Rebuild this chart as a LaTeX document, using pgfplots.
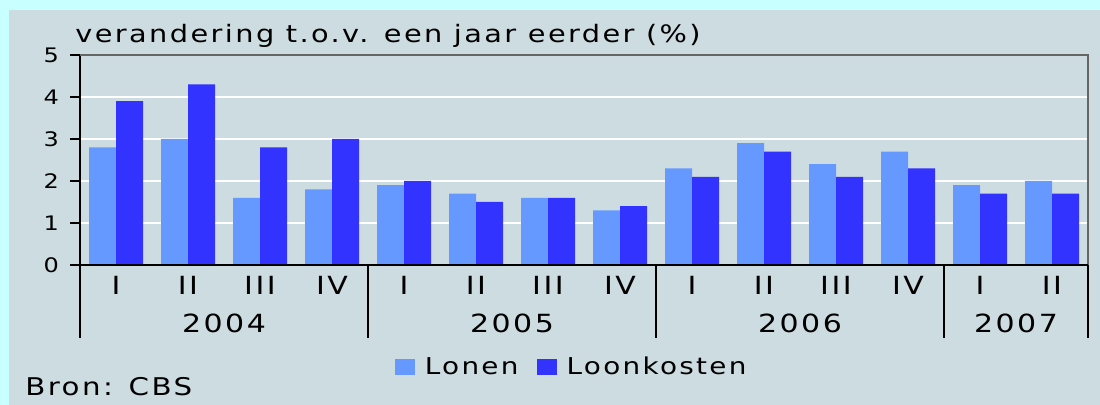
\documentclass[border=0pt]{standalone}
\usepackage{fontspec}
\setmainfont[LetterSpace=10, FakeStretch=1.2]{DejaVu Sans}
\usepackage{pgfplots}
\pgfplotsset{compat=1.18}
\definecolor{outerbg}{HTML}{C8FFFF}
\definecolor{panel}{HTML}{CDDCE0}
\definecolor{lonen}{HTML}{6699FF}
\definecolor{kosten}{HTML}{3333FF}
\begin{document}
\begin{tikzpicture}
\useasboundingbox (0,0) rectangle (550pt,202.5pt);
\fill[outerbg] (0,0) rectangle (550pt,202.5pt);
\fill[panel] (4.5pt,0) rectangle (550pt,197.5pt);
\begin{axis}[
  at={(40pt,70pt)}, anchor=south west,
  width=504pt, height=105pt, scale only axis,
  xmin=-0.5, xmax=13.5, ymin=0, ymax=5,
  clip=false,
  axis background/.style={fill=panel},
  axis lines*=left, axis line style={-, black, line width=1pt},
  ymajorgrids, grid style={white, line width=1pt},
  ytick={0,1,2,3,4,5},
  tick align=outside, major tick length=5pt,
  ytick style={black, line width=1pt},
  yticklabel style={font=\fontsize{10}{11}\selectfont, anchor=east, xshift=-2pt},
  /pgf/number format/assume math mode=true,
  xtick={0,...,13},
  xticklabels={I,II,III,IV,I,II,III,IV,I,II,III,IV,I,II},
  xtick style={draw=none},
  xticklabel style={font=\fontsize{12.5}{13}\selectfont, anchor=base, yshift=-10pt},
  extra x ticks={-0.5,3.5,7.5,11.5,13.5},
  extra x tick labels={},
  extra x tick style={major tick length=36.5pt, xtick style={draw=black, line width=1.1pt}, grid=none},
  legend columns=2,
  legend style={draw=none, fill=none, at={(0.306,-0.486)}, anchor=west,
    font=\fontsize{11.6}{13}\selectfont, /tikz/every even column/.append style={column sep=7pt},
    /tikz/every odd column/.append style={column sep=3pt}},
  legend image code/.code={\fill[#1] (0pt,-4pt) rectangle (10pt,4pt);},
]
\addplot[ybar, bar width=0.375, bar shift=-0.1875, fill=lonen, draw=none] coordinates {
(0,2.8) (1,3.0) (2,1.6) (3,1.8) (4,1.9) (5,1.7) (6,1.6) (7,1.3) (8,2.3) (9,2.9) (10,2.4) (11,2.7) (12,1.9) (13,2.0)};
\addlegendentry{Lonen}
\addplot[ybar, bar width=0.375, bar shift=0.1875, fill=kosten, draw=none] coordinates {
(0,3.9) (1,4.3) (2,2.8) (3,3.0) (4,2.0) (5,1.5) (6,1.6) (7,1.4) (8,2.1) (9,2.7) (10,2.1) (11,2.3) (12,1.7) (13,1.7)};
\addlegendentry{Loonkosten}
\draw[gray!80!black, line width=1pt] (rel axis cs:0,1) -- (rel axis cs:1,1) -- (rel axis cs:1,0);
\draw[black, line width=1pt] (rel axis cs:0,0) -- (rel axis cs:1,0);
\node[anchor=base west, inner sep=0pt, font=\fontsize{12}{13}\selectfont] at (rel axis cs:0,1) [xshift=-2.5pt, yshift=6.2pt] {verandering t.o.v. een jaar eerder (\%)};
\node[anchor=base, font=\fontsize{12.5}{13}\selectfont] at (axis cs:1.5,0) [yshift=-33.8pt] {2004};
\node[anchor=base, font=\fontsize{12.5}{13}\selectfont] at (axis cs:5.5,0) [yshift=-33.8pt] {2005};
\node[anchor=base, font=\fontsize{12.5}{13}\selectfont] at (axis cs:9.5,0) [yshift=-33.8pt] {2006};
\node[anchor=base, font=\fontsize{12.5}{13}\selectfont] at (axis cs:12.5,0) [yshift=-33.8pt] {2007};
\end{axis}
\node[anchor=base west, inner sep=0pt, font=\fontsize{12.2}{13}\selectfont] at (12.5pt,4.5pt) {Bron: CBS};
\end{tikzpicture}
\end{document}
